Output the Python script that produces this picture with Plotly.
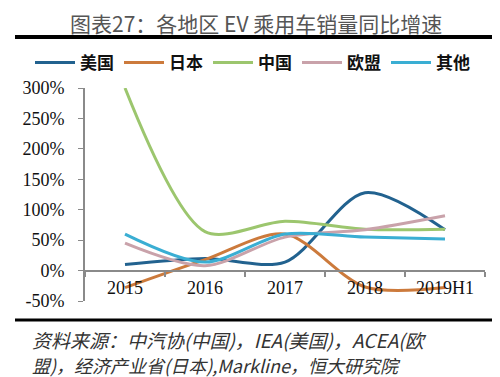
import plotly.graph_objects as go

categories = ["2015", "2016", "2017", "2018", "2019H1"]
us = [10, 20, 14, 128, 67]
japan = [-28, 18, 60, -27, -28]
china = [300, 64, 81, 68, 68]
eu = [45, 8, 55, 67, 90]
others = [60, 14, 60, 55, 52]

series = [
    ("美国", us, "#22628f"),
    ("日本", japan, "#cc7a3c"),
    ("中国", china, "#9cc66e"),
    ("欧盟", eu, "#c9a2aa"),
    ("其他", others, "#3aaed3"),
]

y_ticks = [-50, 0, 50, 100, 150, 200, 250, 300]
y_labels = [f"{v}%" for v in y_ticks]

L, R, T, B = 77, 477, 80, 293
W, H = 500, 377

def px(x):
    return (x - L) / (R - L)

def py(y):
    return (B - y) / (B - T)

fig = go.Figure()
for name, vals, col in series:
    fig.add_trace(go.Scatter(x=categories, y=vals, name=name, mode="lines",
                             line=dict(color=col, width=3, shape="spline", smoothing=0.85)))

fig.update_layout(
    width=W, height=H,
    margin=dict(l=L, r=W - R, t=T, b=H - B),
    paper_bgcolor="white", plot_bgcolor="white",
    showlegend=True,
    legend=dict(orientation="h", x=px(22), y=py(55), xanchor="left", yanchor="middle",
                font=dict(family="Noto Sans CJK SC", size=17, color="#111", weight="bold"),
                entrywidth=34, entrywidthmode="pixels", itemwidth=40,
                bgcolor="rgba(0,0,0,0)"),
    xaxis=dict(type="category", range=[-0.5, 4.5], showgrid=False,
               showline=True, linecolor="#8a8a8a", linewidth=2,
               ticks="outside", ticklen=5, tickcolor="#8a8a8a", tickwidth=1.5,
               tickson="boundaries", anchor="free", position=py(263),
               tickfont=dict(family="Liberation Serif", size=18, color="#111")),
    yaxis=dict(range=[-50, 300], tickvals=y_ticks, ticktext=y_labels, showgrid=False,
               zeroline=False, showline=True, linecolor="#8a8a8a", linewidth=2,
               ticks="outside", ticklen=5, tickcolor="#8a8a8a", ticklabelstandoff=10,
               tickfont=dict(family="Liberation Serif", size=18, color="#111")),
)

fig.add_annotation(text="图表27：各地区 EV 乘用车销量同比增速", xref="paper", yref="paper",
                   x=px(248), y=py(15), xanchor="center", yanchor="middle", showarrow=False,
                   font=dict(family="Noto Sans CJK SC", size=21, color="#555"))
fig.add_shape(type="line", xref="paper", yref="paper", x0=px(7), x1=px(488), y0=py(29), y1=py(29),
              line=dict(color="black", width=4))
fig.add_shape(type="line", xref="paper", yref="paper", x0=px(7), x1=px(488), y0=py(312), y1=py(312),
              line=dict(color="black", width=3))
fig.add_annotation(text="资料来源：中汽协(中国)，IEA(美国)，ACEA(欧", xref="paper", yref="paper",
                   x=px(22), y=py(331), xanchor="left", yanchor="middle", showarrow=False,
                   font=dict(family="Noto Sans CJK SC", size=19, color="#333", style="italic"))
fig.add_annotation(text="盟)，经济产业省(日本),Markline，恒大研究院", xref="paper", yref="paper",
                   x=px(22), y=py(357), xanchor="left", yanchor="middle", showarrow=False,
                   font=dict(family="Noto Sans CJK SC", size=18, color="#333", style="italic"))

fig.write_html("out.html")
